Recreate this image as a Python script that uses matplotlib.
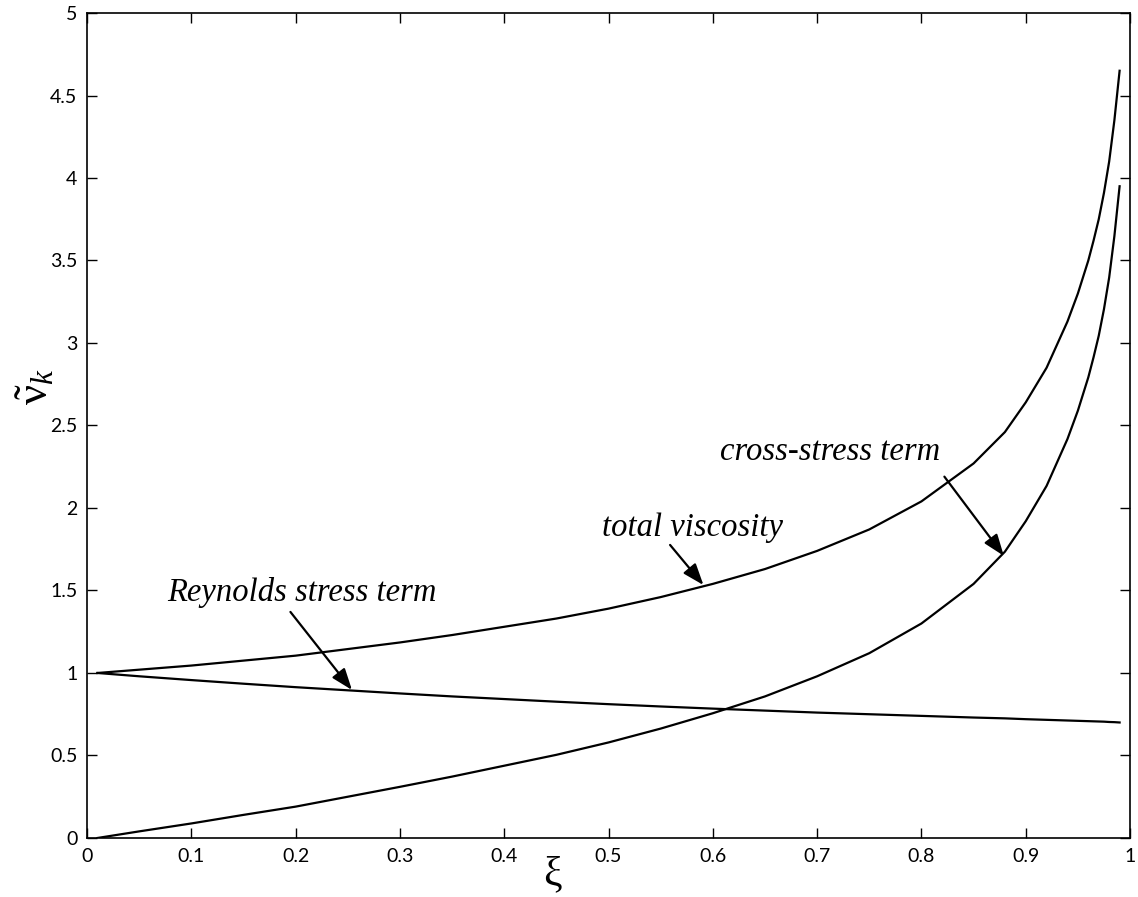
import numpy as np
import matplotlib
matplotlib.use("Agg")
import matplotlib.pyplot as plt

# values
xi = [0.01, 0.05, 0.1, 0.15, 0.2, 0.25, 0.3, 0.35, 0.4, 0.45, 0.5, 0.55, 0.6, 0.65,
      0.7, 0.75, 0.8, 0.85, 0.88, 0.9, 0.92, 0.94, 0.95, 0.96, 0.965, 0.97, 0.975,
      0.98, 0.985, 0.99]
total = [1.0, 1.02, 1.045, 1.075, 1.105, 1.145, 1.185, 1.23, 1.28, 1.33, 1.39, 1.46,
         1.54, 1.63, 1.74, 1.87, 2.04, 2.27, 2.46, 2.64, 2.85, 3.13, 3.3, 3.5, 3.62,
         3.75, 3.91, 4.1, 4.35, 4.65]
reynolds = [1.0, 0.98, 0.957, 0.935, 0.914, 0.895, 0.876, 0.858, 0.842, 0.826, 0.811,
            0.797, 0.784, 0.772, 0.760, 0.750, 0.740, 0.730, 0.725, 0.720, 0.716,
            0.712, 0.710, 0.708, 0.707, 0.706, 0.705, 0.703, 0.702, 0.700]
cross = [0.0, 0.04, 0.088, 0.14, 0.19, 0.25, 0.31, 0.372, 0.438, 0.504, 0.579, 0.663,
         0.756, 0.858, 0.98, 1.12, 1.30, 1.54, 1.735, 1.92, 2.134, 2.418, 2.59, 2.792,
         2.913, 3.044, 3.205, 3.397, 3.648, 3.95]

xticks = [0, 0.1, 0.2, 0.3, 0.4, 0.5, 0.6, 0.7, 0.8, 0.9, 1]
xticklabels = ["0", "0.1", "0.2", "0.3", "0.4", "0.5", "0.6", "0.7", "0.8", "0.9", "1"]
yticks = [0, 0.5, 1, 1.5, 2, 2.5, 3, 3.5, 4, 4.5, 5]
yticklabels = ["0", "0.5", "1", "1.5", "2", "2.5", "3", "3.5", "4", "4.5", "5"]

plt.rcParams['mathtext.fontset'] = 'custom'
plt.rcParams['mathtext.rm'] = 'Liberation Serif'
plt.rcParams['mathtext.it'] = 'Liberation Serif:italic'

fig = plt.figure(figsize=(11.38, 8.97), dpi=100)
ax = fig.add_axes([0.0765, 0.0658, 0.9165, 0.9197])

for ys in (total, reynolds, cross):
    ax.plot(xi, ys, color='k', lw=1.6, solid_joinstyle='round')

ax.set_xlim(0, 1)
ax.set_ylim(0, 5)
ax.set_xticks(xticks)
ax.set_xticklabels(xticklabels)
ax.set_yticks(yticks)
ax.set_yticklabels(yticklabels)
ax.tick_params(direction='in', length=7, width=1, top=True, right=True,
               labelsize=14, pad=7)
for lab in ax.get_xticklabels() + ax.get_yticklabels():
    lab.set_family('Lato')
for sp in ax.spines.values():
    sp.set_linewidth(1.2)

# axis labels
fig.text(552 / 1138, 1 - 875 / 897, 'ξ', family='Liberation Serif', fontsize=30,
         ha='center', va='center')
fig.text(36 / 1138, 1 - 387 / 897, r'$\tilde{\mathrm{\nu}}_{k}$', fontsize=32,
         rotation=90, ha='center', va='center')

aprops = dict(arrowstyle='-|>,head_length=1.3,head_width=0.48', color='k', lw=1.6,
              shrinkA=0, shrinkB=0)
tfont = dict(family='Liberation Serif', style='italic', fontsize=23.5)

ax.annotate('', xy=(0.254, 0.897), xytext=(0.195, 1.37), arrowprops=aprops)
ax.text(0.0767, 1.49, 'Reynolds stress term', va='center', ha='left', **tfont)

ax.annotate('', xy=(0.591, 1.533), xytext=(0.559, 1.776), arrowprops=aprops)
ax.text(0.494, 1.879, 'total viscosity', va='center', ha='left', **tfont)

ax.annotate('', xy=(0.879, 1.71), xytext=(0.822, 2.19), arrowprops=aprops)
ax.text(0.607, 2.34, 'cross-stress term', va='center', ha='left', **tfont)

fig.savefig('out.png', dpi=100)
